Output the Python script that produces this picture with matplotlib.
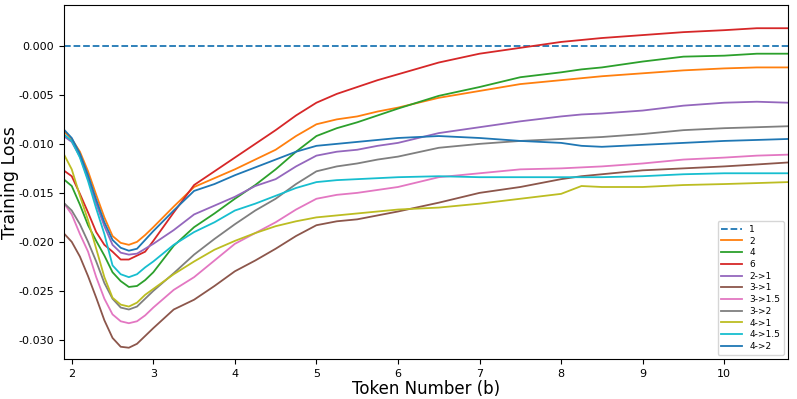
import numpy as np
import matplotlib
matplotlib.use("Agg")
import matplotlib.pyplot as plt

# token number (billions) where values were read
tokens = [1.9, 2.0, 2.1, 2.2, 2.3, 2.4, 2.5, 2.6, 2.7, 2.8, 2.9, 3.0, 3.25, 3.5, 3.75,
          4.0, 4.25, 4.5, 4.75, 5.0, 5.25, 5.5, 5.75, 6.0, 6.5, 7.0, 7.5, 8.0, 8.25, 8.5,
          9.0, 9.5, 10.0, 10.4, 10.78]

# training loss relative to baseline "1"
loss_1 = [0.0] * len(tokens)
loss_2 = [-0.0087, -0.0095, -0.0108, -0.0128, -0.0152, -0.0175, -0.0194, -0.0201, -0.0203,
          -0.0200, -0.0193, -0.0185, -0.0164, -0.0144, -0.0135, -0.0126, -0.0116, -0.0106,
          -0.0092, -0.0080, -0.0075, -0.0072, -0.0067, -0.0063, -0.0053, -0.0046, -0.0039,
          -0.0035, -0.0033, -0.0031, -0.0028, -0.0025, -0.0023, -0.0022, -0.0022]
loss_4 = [-0.0136, -0.0143, -0.0162, -0.0183, -0.0199, -0.0214, -0.0231, -0.0240, -0.0246,
          -0.0245, -0.0239, -0.0231, -0.0204, -0.0185, -0.0171, -0.0156, -0.0142, -0.0126,
          -0.0108, -0.0092, -0.0084, -0.0078, -0.0071, -0.0064, -0.0051, -0.0042, -0.0032,
          -0.0027, -0.0024, -0.0022, -0.0016, -0.0011, -0.0010, -0.0008, -0.0008]
loss_6 = [-0.0127, -0.0133, -0.0151, -0.0170, -0.0190, -0.0203, -0.0210, -0.0218, -0.0218,
          -0.0214, -0.0210, -0.0199, -0.0170, -0.0142, -0.0128, -0.0114, -0.0100, -0.0086,
          -0.0071, -0.0058, -0.0049, -0.0042, -0.0035, -0.0029, -0.0017, -0.0008, -0.0002,
          0.0004, 0.0006, 0.0008, 0.0011, 0.0014, 0.0016, 0.0018, 0.0018]
loss_2_1 = [-0.0092, -0.0098, -0.0113, -0.0136, -0.0161, -0.0184, -0.0203, -0.0211, -0.0213,
            -0.0212, -0.0207, -0.0202, -0.0188, -0.0172, -0.0163, -0.0154, -0.0143, -0.0136,
            -0.0123, -0.0112, -0.0108, -0.0106, -0.0102, -0.0099, -0.0089, -0.0083, -0.0077,
            -0.0072, -0.0070, -0.0069, -0.0066, -0.0061, -0.0058, -0.0057, -0.0058]
loss_3_1 = [-0.0191, -0.0200, -0.0215, -0.0235, -0.0257, -0.0280, -0.0298, -0.0307, -0.0308,
            -0.0304, -0.0296, -0.0288, -0.0269, -0.0259, -0.0245, -0.0230, -0.0219, -0.0207,
            -0.0194, -0.0183, -0.0179, -0.0177, -0.0173, -0.0169, -0.0160, -0.0150, -0.0144,
            -0.0136, -0.0133, -0.0131, -0.0127, -0.0125, -0.0123, -0.0121, -0.0119]
loss_3_15 = [-0.0160, -0.0172, -0.0192, -0.0210, -0.0236, -0.0258, -0.0274, -0.0281, -0.0283,
             -0.0281, -0.0275, -0.0267, -0.0249, -0.0236, -0.0219, -0.0202, -0.0191, -0.0180,
             -0.0167, -0.0156, -0.0152, -0.0150, -0.0147, -0.0144, -0.0134, -0.0130, -0.0126,
             -0.0125, -0.0124, -0.0123, -0.0120, -0.0116, -0.0114, -0.0112, -0.0111]
loss_3_2 = [-0.0160, -0.0168, -0.0182, -0.0200, -0.0220, -0.0242, -0.0258, -0.0267, -0.0269,
            -0.0266, -0.0258, -0.0250, -0.0232, -0.0213, -0.0197, -0.0182, -0.0168, -0.0156,
            -0.0141, -0.0128, -0.0123, -0.0120, -0.0116, -0.0113, -0.0104, -0.0100, -0.0097,
            -0.0095, -0.0094, -0.0093, -0.0090, -0.0086, -0.0084, -0.0083, -0.0082]
loss_4_1 = [-0.0110, -0.0126, -0.0153, -0.0178, -0.0207, -0.0236, -0.0257, -0.0264, -0.0266,
            -0.0262, -0.0254, -0.0248, -0.0233, -0.0220, -0.0208, -0.0199, -0.0191, -0.0184,
            -0.0179, -0.0175, -0.0173, -0.0171, -0.0169, -0.0167, -0.0165, -0.0161, -0.0156,
            -0.0151, -0.0143, -0.0144, -0.0144, -0.0142, -0.0141, -0.0140, -0.0139]
loss_4_15 = [-0.0090, -0.0097, -0.0114, -0.0138, -0.0166, -0.0192, -0.0224, -0.0233, -0.0236,
             -0.0233, -0.0226, -0.0220, -0.0203, -0.0190, -0.0180, -0.0168, -0.0161, -0.0153,
             -0.0145, -0.0139, -0.0137, -0.0136, -0.0135, -0.0134, -0.0133, -0.0134, -0.0134,
             -0.0134, -0.0134, -0.0134, -0.0133, -0.0131, -0.0130, -0.0130, -0.0130]
loss_4_2 = [-0.0085, -0.0094, -0.0110, -0.0132, -0.0157, -0.0180, -0.0198, -0.0206, -0.0209,
            -0.0207, -0.0198, -0.0189, -0.0168, -0.0148, -0.0141, -0.0132, -0.0124, -0.0116,
            -0.0108, -0.0102, -0.0100, -0.0098, -0.0096, -0.0094, -0.0092, -0.0094, -0.0097,
            -0.0099, -0.0102, -0.0103, -0.0101, -0.0099, -0.0097, -0.0096, -0.0095]

labels = ["1", "2", "4", "6", "2->1", "3->1", "3->1.5", "3->2", "4->1", "4->1.5", "4->2"]
series = [loss_1, loss_2, loss_4, loss_6, loss_2_1, loss_3_1, loss_3_15, loss_3_2,
          loss_4_1, loss_4_15, loss_4_2]

fig, ax = plt.subplots(figsize=(7.97, 3.99), dpi=100)
fig.subplots_adjust(left=0.080, right=0.989, top=0.987, bottom=0.100)

for i, (lab, vals) in enumerate(zip(labels, series)):
    style = "--" if lab == "1" else "-"
    ax.plot(tokens, vals, style, color="C%d" % (i % 10), label=lab, linewidth=1.3)

ax.set_xlim(1.902, 10.785)
ax.set_ylim(-0.03196, 0.00415)
ax.set_xticks([2, 3, 4, 5, 6, 7, 8, 9, 10])
ax.set_yticks([0.0, -0.005, -0.01, -0.015, -0.02, -0.025, -0.03])
ax.yaxis.set_major_formatter(matplotlib.ticker.FormatStrFormatter("%.3f"))
ax.tick_params(labelsize=8)
ax.set_xlabel("Token Number (b)", fontsize=12, labelpad=1)
ax.set_ylabel("Training Loss", fontsize=12.5)
ax.yaxis.set_label_coords(-0.0622, 0.5)
ax.legend(loc="lower right", fontsize=6.5, labelspacing=0.3, handlelength=2.3)

fig.savefig("out.png", dpi=100)
